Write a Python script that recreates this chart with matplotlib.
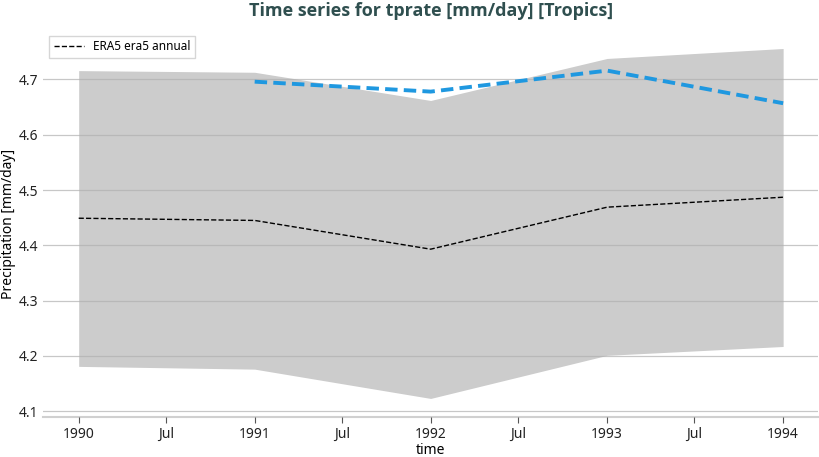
import numpy as np
import matplotlib
matplotlib.use('Agg')
import matplotlib.pyplot as plt
import matplotlib.dates as mdates

plt.rcParams['font.family'] = ['Noto Sans', 'DejaVu Sans']

years = np.array(['1990-01-01', '1991-01-01', '1992-01-01', '1993-01-01', '1994-01-01'],
                 dtype='datetime64[D]')
era5 = [4.449, 4.445, 4.393, 4.469, 4.487]
band_low = [4.181, 4.176, 4.123, 4.201, 4.217]
band_high = [4.716, 4.713, 4.662, 4.738, 4.756]
model_years = years[1:]
model = [4.696, 4.678, 4.716, 4.657]
tick_dates = np.array(['1990-01-01', '1990-07-01', '1991-01-01', '1991-07-01',
                       '1992-01-01', '1992-07-01', '1993-01-01', '1993-07-01',
                       '1994-01-01'], dtype='datetime64[D]')
tick_labels = ['1990', 'Jul', '1991', 'Jul', '1992', 'Jul', '1993', 'Jul', '1994']

fig = plt.figure(figsize=(8.2, 4.57), dpi=100)
ax = fig.add_axes([0.053, 0.087, 0.945, 0.848])

ax.fill_between(years, band_low, band_high, color='#cccccc', lw=0, zorder=1)
ax.plot(model_years, model, color='#1f98e0', lw=2.8, ls=(0, (3.2, 1.6)), zorder=3)
ax.plot(years, era5, color='black', lw=1.0, ls='--', label='ERA5 era5 annual', zorder=3)

ax.set_ylim(4.089, 4.79)
ax.set_yticks([4.1, 4.2, 4.3, 4.4, 4.5, 4.6, 4.7])
ax.yaxis.grid(True, color='#b0b0b0', lw=0.9, alpha=0.7, zorder=2)
ax.set_axisbelow(False)

ax.set_xticks(mdates.date2num(tick_dates))
ax.set_xticklabels(tick_labels)

for s in ['top', 'right', 'left']:
    ax.spines[s].set_visible(False)
ax.spines['bottom'].set_color('#d0d0d0')
ax.spines['bottom'].set_linewidth(1.5)
ax.tick_params(axis='y', length=0, labelsize=10, colors='#222222', pad=4)
ax.tick_params(axis='x', length=4, color='#555555', labelsize=10, colors='#222222', pad=3)

ax.set_xlabel('time', fontsize=10, labelpad=1)
ax.set_ylabel('Precipitation [mm/day]', fontsize=10, labelpad=2)
ax.set_title('Time series for tprate [mm/day] [Tropics]', fontsize=13, fontweight='bold',
             family=['Open Sans', 'DejaVu Sans'], color='#2f4f4f', pad=10)

leg = ax.legend(loc='upper left', fontsize=8.5, frameon=True, fancybox=False,
                handlelength=2.5, borderpad=0.4, bbox_to_anchor=(0.0, 1.0))
leg.get_frame().set_edgecolor('#cccccc')

fig.savefig('out.png', dpi=100)
